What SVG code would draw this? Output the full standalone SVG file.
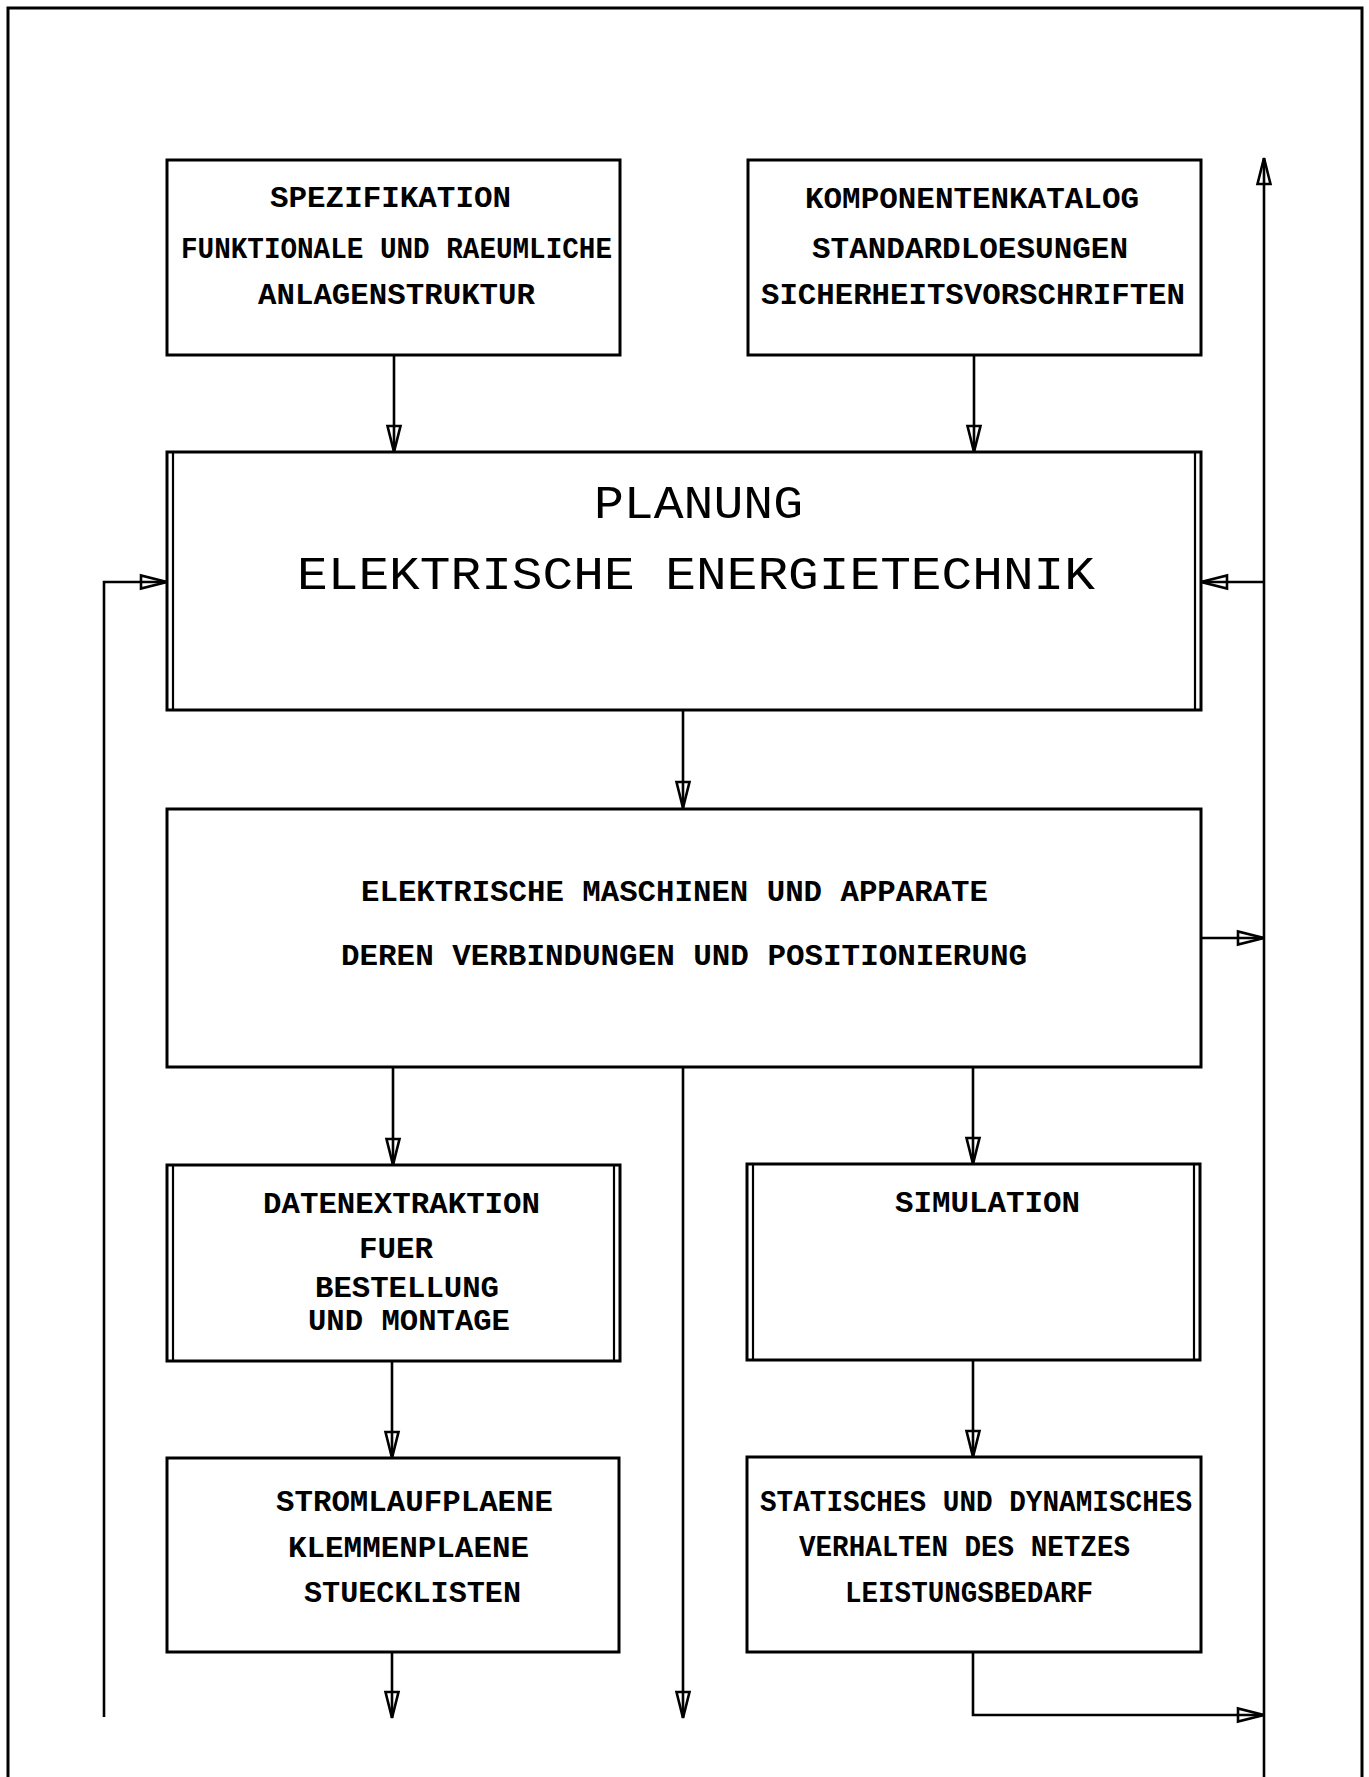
<svg xmlns="http://www.w3.org/2000/svg" width="1369" height="1777" viewBox="0 0 1369 1777">
<style>
.frame{fill:none;stroke:#000;stroke-width:3}
.box{fill:#fff;stroke:#000;stroke-width:3}
.dbl{fill:none;stroke:#000;stroke-width:2.2}
.con{fill:none;stroke:#000;stroke-width:2.6}
.t{font-family:"Liberation Mono","DejaVu Sans Mono",monospace;font-size:30px;font-weight:bold;fill:#000}
.big{font-family:"Liberation Mono","DejaVu Sans Mono",monospace;font-size:47px;font-weight:normal;fill:#000}
</style>
<defs>
<marker id="ah" markerUnits="userSpaceOnUse" markerWidth="32" markerHeight="18" viewBox="-30 -9 32 18" refX="0" refY="0" orient="auto">
<path d="M0,0 L-26,-6.5 L-26,6.5 Z" fill="none" stroke="#000" stroke-width="2.6" stroke-linejoin="miter"/>
</marker>
</defs>
<rect width="1369" height="1777" fill="#fff"/>
<path class="frame" d="M8,1780 V8 H1362 V1780"/>

<g id="connectors">
<line class="con" x1="394" y1="355" x2="394" y2="452" marker-end="url(#ah)"/>
<line class="con" x1="974" y1="355" x2="974" y2="452" marker-end="url(#ah)"/>
<line class="con" x1="683" y1="710" x2="683" y2="808" marker-end="url(#ah)"/>
<polyline class="con" points="104,1717 104,582 167,582" marker-end="url(#ah)"/>
<line class="con" x1="1264" y1="1780" x2="1264" y2="158" marker-end="url(#ah)"/>
<line class="con" x1="1264" y1="582" x2="1201" y2="582" marker-end="url(#ah)"/>
<line class="con" x1="1201" y1="938" x2="1264" y2="938" marker-end="url(#ah)"/>
<line class="con" x1="393" y1="1067" x2="393" y2="1165" marker-end="url(#ah)"/>
<line class="con" x1="683" y1="1067" x2="683" y2="1718" marker-end="url(#ah)"/>
<line class="con" x1="973" y1="1067" x2="973" y2="1164" marker-end="url(#ah)"/>
<line class="con" x1="392" y1="1361" x2="392" y2="1458" marker-end="url(#ah)"/>
<line class="con" x1="973" y1="1360" x2="973" y2="1457" marker-end="url(#ah)"/>
<line class="con" x1="392" y1="1652" x2="392" y2="1718" marker-end="url(#ah)"/>
<polyline class="con" points="973,1652 973,1715 1264,1715" marker-end="url(#ah)"/>
</g>

<g id="spezifikation">
<rect class="box" x="167" y="160" width="453" height="195"/>
<text class="t" x="270" y="207" textLength="241" lengthAdjust="spacingAndGlyphs">SPEZIFIKATION</text>
<text class="t" x="181" y="258" textLength="431" lengthAdjust="spacingAndGlyphs">FUNKTIONALE UND RAEUMLICHE</text>
<text class="t" x="258" y="304" textLength="277" lengthAdjust="spacingAndGlyphs">ANLAGENSTRUKTUR</text>
</g>

<g id="komponentenkatalog">
<rect class="box" x="748" y="160" width="453" height="195"/>
<text class="t" x="805" y="208" textLength="334" lengthAdjust="spacingAndGlyphs">KOMPONENTENKATALOG</text>
<text class="t" x="812" y="258" textLength="316" lengthAdjust="spacingAndGlyphs">STANDARDLOESUNGEN</text>
<text class="t" x="761" y="304" textLength="424" lengthAdjust="spacingAndGlyphs">SICHERHEITSVORSCHRIFTEN</text>
</g>

<g id="planung">
<rect class="box" x="167" y="452" width="1034" height="258"/>
<line class="dbl" x1="173" y1="452" x2="173" y2="710"/>
<line class="dbl" x1="1195" y1="452" x2="1195" y2="710"/>
<text class="big" x="594" y="518" textLength="209" lengthAdjust="spacingAndGlyphs">PLANUNG</text>
<text class="big" x="297" y="589" textLength="798" lengthAdjust="spacingAndGlyphs">ELEKTRISCHE ENERGIETECHNIK</text>
</g>

<g id="maschinen">
<rect class="box" x="167" y="809" width="1034" height="258"/>
<text class="t" x="361" y="901" textLength="627" lengthAdjust="spacingAndGlyphs">ELEKTRISCHE MASCHINEN UND APPARATE</text>
<text class="t" x="341" y="965" textLength="686" lengthAdjust="spacingAndGlyphs">DEREN VERBINDUNGEN UND POSITIONIERUNG</text>
</g>

<g id="datenextraktion">
<rect class="box" x="167" y="1165" width="453" height="196"/>
<line class="dbl" x1="173" y1="1165" x2="173" y2="1361"/>
<line class="dbl" x1="614" y1="1165" x2="614" y2="1361"/>
<text class="t" x="263" y="1213" textLength="277" lengthAdjust="spacingAndGlyphs">DATENEXTRAKTION</text>
<text class="t" x="359" y="1258" textLength="74" lengthAdjust="spacingAndGlyphs">FUER</text>
<text class="t" x="315" y="1297" textLength="184" lengthAdjust="spacingAndGlyphs">BESTELLUNG</text>
<text class="t" x="308" y="1330" textLength="202" lengthAdjust="spacingAndGlyphs">UND MONTAGE</text>
</g>

<g id="simulation">
<rect class="box" x="747" y="1164" width="453" height="196"/>
<line class="dbl" x1="753" y1="1164" x2="753" y2="1360"/>
<line class="dbl" x1="1194" y1="1164" x2="1194" y2="1360"/>
<text class="t" x="895" y="1212" textLength="185" lengthAdjust="spacingAndGlyphs">SIMULATION</text>
</g>

<g id="stromlaufplaene">
<rect class="box" x="167" y="1458" width="452" height="194"/>
<text class="t" x="276" y="1511" textLength="277" lengthAdjust="spacingAndGlyphs">STROMLAUFPLAENE</text>
<text class="t" x="288" y="1557" textLength="241" lengthAdjust="spacingAndGlyphs">KLEMMENPLAENE</text>
<text class="t" x="304" y="1602" textLength="217" lengthAdjust="spacingAndGlyphs">STUECKLISTEN</text>
</g>

<g id="statisches">
<rect class="box" x="747" y="1457" width="454" height="195"/>
<text class="t" x="760" y="1511" textLength="432" lengthAdjust="spacingAndGlyphs">STATISCHES UND DYNAMISCHES</text>
<text class="t" x="799" y="1556" textLength="331" lengthAdjust="spacingAndGlyphs">VERHALTEN DES NETZES</text>
<text class="t" x="845" y="1602" textLength="248" lengthAdjust="spacingAndGlyphs">LEISTUNGSBEDARF</text>
</g>
</svg>
